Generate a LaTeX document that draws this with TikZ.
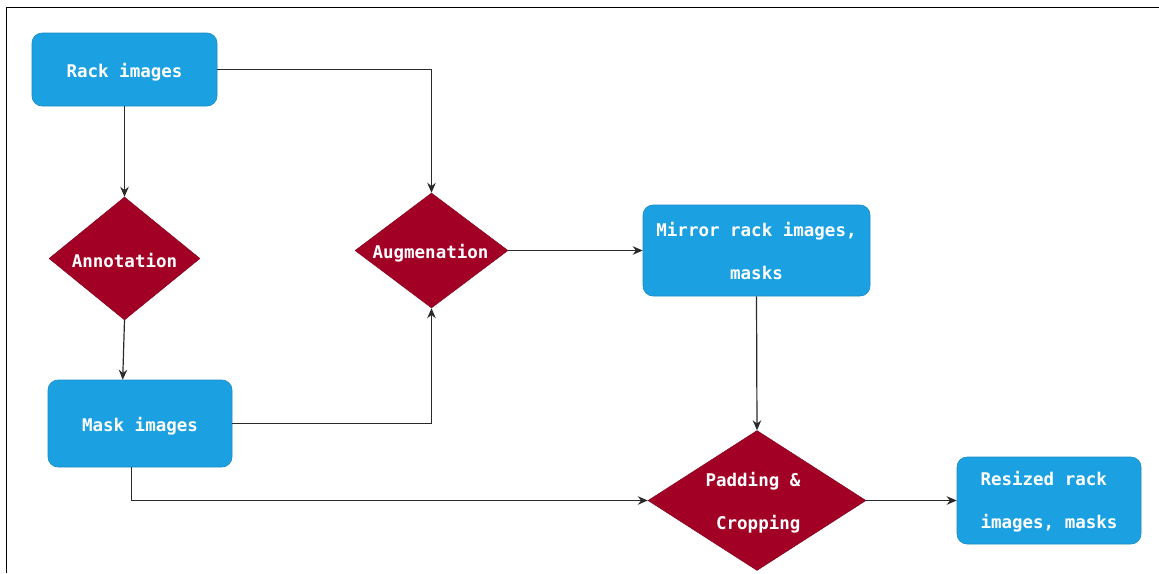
\documentclass[tikz,border=0pt]{standalone}
\usepackage{fontspec}
\newfontfamily\diagmono{DejaVu Sans Mono}
\usetikzlibrary{shapes.geometric,arrows.meta}
\definecolor{boxblue}{HTML}{1BA1E2}
\definecolor{boxline}{HTML}{1A8AC4}
\definecolor{dred}{HTML}{A20025}
\definecolor{dredline}{HTML}{7A0018}
\definecolor{conn}{HTML}{2A2A2A}
\tikzset{
  txt/.style={font=\diagmono\bfseries\fontsize{17.5}{43}\selectfont, text=white, inner sep=0pt},
  procbox/.style={rectangle, rounded corners=10pt, fill=boxblue, draw=boxline, line width=0.6pt, inner sep=0pt},
  decis/.style={diamond, fill=dred, draw=dredline, line width=0.4pt, inner sep=0pt, aspect=1},
  link/.style={draw=conn, line width=1.2pt, -{Stealth[length=10pt,width=8.5pt]}},
}
\begin{document}
\begin{tikzpicture}[x=1pt,y=-1pt]
\useasboundingbox (0,0) rectangle (1159,573);
\draw[line width=1.6pt] (6.5,573) -- (6.5,7.5) -- (1159,7.5);

\node[procbox, minimum width=185pt, minimum height=73pt, label={[txt,yshift=-2.5pt]center:Rack images}] (rack) at (124.5,69.5) {};
\node[procbox, minimum width=184pt, minimum height=87pt, label={[txt,yshift=-2.5pt]center:Mask images}] (mask) at (140,423.5) {};
\node[procbox, minimum width=227pt, minimum height=91pt, label={[txt,align=center,yshift=-0.5pt]center:Mirror rack images,\\masks}] (mirror) at (756.5,250.5) {};
\node[procbox, minimum width=184pt, minimum height=87pt, label={[txt,align=left,yshift=-1.5pt]center:Resized rack\\images, masks}] (resized) at (1049,500.5) {};

\node[decis, minimum width=151pt, minimum height=123pt, label={[txt,yshift=-2pt]center:Annotation}] (ann) at (124.5,258.5) {};
\node[decis, minimum width=153pt, minimum height=115pt, label={[txt,xshift=-1pt,yshift=-2.5pt]center:Augmenation}] (aug) at (431.5,250.5) {};
\node[decis, minimum width=218pt, minimum height=140pt, label={[txt,align=right,xshift=-4pt,yshift=-2.5pt]center:Padding \&\\Cropping}] (pad) at (757,500.5) {};

\draw[link] (rack.south) -- (ann.north);
\draw[link] (rack.east) -| (aug.north);
\draw[link] (ann.south) -- ([xshift=75pt]mask.north west);
\draw[link] (mask.east) -| (aug.south);
\draw[link] (aug.east) -- (mirror.west);
\draw[link] (mirror.south) -- (pad.north);
\draw[link] ([xshift=83.5pt]mask.south west) |- (pad.west);
\draw[link] (pad.east) -- (resized.west);
\end{tikzpicture}
\end{document}
